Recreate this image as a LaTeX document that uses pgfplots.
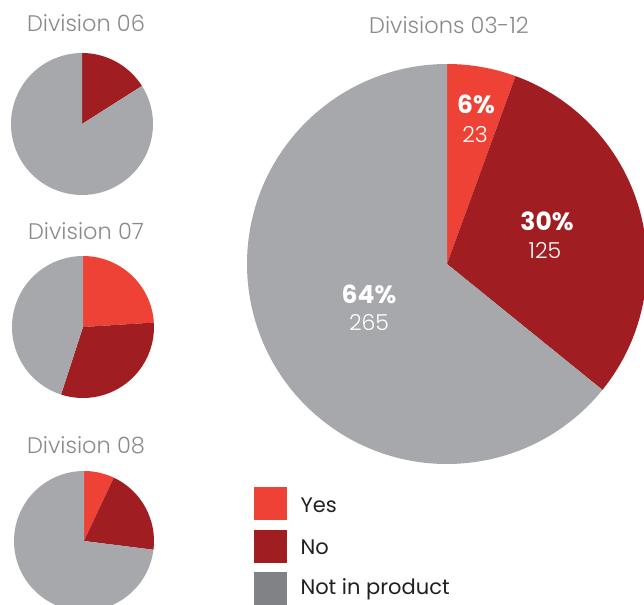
\documentclass[border=0pt]{standalone}
\usepackage{pgfplots}
\usepackage{pgfplotstable}
\pgfplotsset{compat=1.18}
\usepackage{fontspec}
\setmainfont{Poppins}
\newfontfamily\lightfont{Poppins Light}
\definecolor{cyes}{HTML}{EF4237}
\definecolor{cno}{HTML}{A01D21}
\definecolor{cnot}{HTML}{A7A8AB}
\definecolor{cnotleg}{HTML}{808285}
\definecolor{ctitle}{HTML}{8A8A8A}
\definecolor{ctext}{HTML}{231F20}

% shares of Yes / No / Not in product for each pie
\pgfplotstableread{
group yes no not
d06   0   16  84
d07   24  31  45
d08   7   20  73
all   23  125 265
}\piedata

\newcommand\getv[3]{\pgfplotstablegetelem{#1}{#2}\of\piedata\edef#3{\pgfplotsretval}}
% cx, cy, r, start, end, total, colour  (angles clockwise from 12 o'clock)
\newcommand\pieslice[7]{%
  \fill[#7] (axis cs:#1,#2) -- ++({90-((#4)/(#6))*360}:#3bp)
    arc[start angle={90-((#4)/(#6))*360}, end angle={90-((#5)/(#6))*360}, radius=#3bp] -- cycle;}

\begin{document}
\begin{tikzpicture}
\getv{0}{yes}\aY \getv{0}{no}\aN \getv{0}{not}\aO
\getv{1}{yes}\bY \getv{1}{no}\bN \getv{1}{not}\bO
\getv{2}{yes}\cY \getv{2}{no}\cN \getv{2}{not}\cO
\getv{3}{yes}\dY \getv{3}{no}\dN \getv{3}{not}\dO
\begin{axis}[width=644bp,height=605bp,scale only axis,
  xmin=0,xmax=644,ymin=0,ymax=605,y dir=reverse,
  axis lines=none,clip=true]
\path (axis cs:0,0) (axis cs:644,605);
% Division 06
\pieslice{82}{124}{71}{0}{\aY}{\aY+\aN+\aO}{cyes}
\pieslice{82}{124}{71}{\aY}{\aY+\aN}{\aY+\aN+\aO}{cno}
\pieslice{82}{124}{71}{\aY+\aN}{\aY+\aN+\aO}{\aY+\aN+\aO}{cnot}
% Division 07
\pieslice{83}{327}{71}{0}{\bY}{\bY+\bN+\bO}{cyes}
\pieslice{83}{327}{71}{\bY}{\bY+\bN}{\bY+\bN+\bO}{cno}
\pieslice{83}{327}{71}{\bY+\bN}{\bY+\bN+\bO}{\bY+\bN+\bO}{cnot}
% Division 08
\pieslice{84}{541}{70}{0}{\cY}{\cY+\cN+\cO}{cyes}
\pieslice{84}{541}{70}{\cY}{\cY+\cN}{\cY+\cN+\cO}{cno}
\pieslice{84}{541}{70}{\cY+\cN}{\cY+\cN+\cO}{\cY+\cN+\cO}{cnot}
% Divisions 03-12
\pieslice{447}{264}{200}{0}{\dY}{\dY+\dN+\dO}{cyes}
\pieslice{447}{264}{200}{\dY}{\dY+\dN}{\dY+\dN+\dO}{cno}
\pieslice{447}{264}{200}{\dY+\dN}{\dY+\dN+\dO}{\dY+\dN+\dO}{cnot}

% titles
\node[ctitle,font=\lightfont\fontsize{22.5bp}{26bp}\selectfont] at (axis cs:86,23) {Division 06};
\node[ctitle,font=\lightfont\fontsize{22.5bp}{26bp}\selectfont] at (axis cs:86,231) {Division 07};
\node[ctitle,font=\lightfont\fontsize{22.5bp}{26bp}\selectfont] at (axis cs:86,445) {Division 08};
\node[ctitle,font=\lightfont\fontsize{22.5bp}{26bp}\selectfont] at (axis cs:449,25) {Divisions 03-12};

% labels in the large pie
\node[white,font=\bfseries\fontsize{25bp}{28bp}\selectfont] at (axis cs:476,104) {6\%};
\node[white,font=\lightfont\fontsize{22bp}{25bp}\selectfont] at (axis cs:475,135) {23};
\node[white,font=\bfseries\fontsize{25bp}{28bp}\selectfont] at (axis cs:547,221) {30\%};
\node[white,font=\lightfont\fontsize{22bp}{25bp}\selectfont] at (axis cs:545,251) {125};
\node[white,font=\bfseries\fontsize{25bp}{28bp}\selectfont] at (axis cs:369,294) {64\%};
\node[white,font=\lightfont\fontsize{22bp}{25bp}\selectfont] at (axis cs:369,322) {265};

% legend
\fill[cyes] (axis cs:254,487) rectangle (axis cs:287,520);
\fill[cno] (axis cs:254,530) rectangle (axis cs:287,563);
\fill[cnotleg] (axis cs:254,572) rectangle (axis cs:287,605);
\node[ctext,anchor=west,font=\fontsize{21bp}{24bp}\selectfont] at (axis cs:297,505) {Yes};
\node[ctext,anchor=west,font=\fontsize{21bp}{24bp}\selectfont] at (axis cs:297,547) {No};
\node[ctext,anchor=west,font=\fontsize{21bp}{24bp}\selectfont] at (axis cs:297,589) {Not in product};
\end{axis}
\end{tikzpicture}
\end{document}
